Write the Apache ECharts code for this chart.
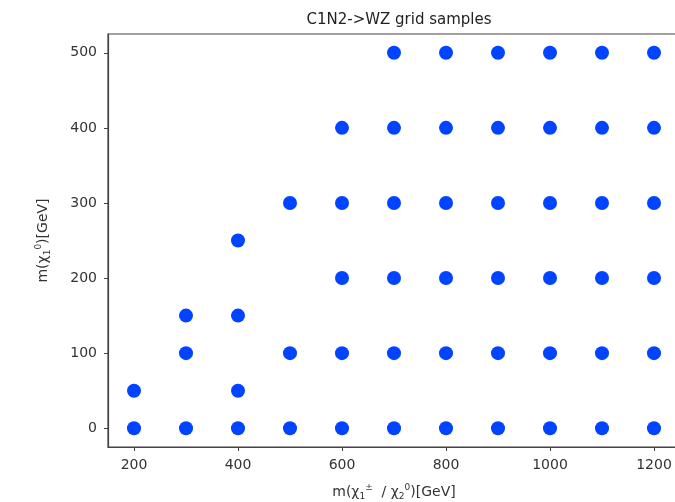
<!DOCTYPE html>
<html><head><meta charset="utf-8">
<script src="https://cdn.jsdelivr.net/npm/echarts@6/dist/echarts.min.js"></script>
<style>html,body{margin:0;padding:0;background:#fff}#c{width:675px;height:502px}</style>
</head><body><div id="c"></div>
<script>
// Grid sample points: chargino/neutralino2 mass (x) vs neutralino1 mass (y)
const xMasses = [200, 300, 400, 500, 600, 700, 800, 900, 1000, 1100, 1200];
const yByMass = {
  200: [0, 50],
  300: [0, 100, 150],
  400: [0, 50, 150, 250],
  500: [0, 100, 300],
  600: [0, 100, 200, 300, 400],
  700: [0, 100, 200, 300, 400, 500],
  800: [0, 100, 200, 300, 400, 500],
  900: [0, 100, 200, 300, 400, 500],
  1000: [0, 100, 200, 300, 400, 500],
  1100: [0, 100, 200, 300, 400, 500],
  1200: [0, 100, 200, 300, 400, 500]
};
const xTicks = [200, 400, 600, 800, 1000, 1200];
const yTicks = [0, 100, 200, 300, 400, 500];

const points = [];
xMasses.forEach(x => yByMass[x].forEach(y => points.push([x, y])));

const font = 'DejaVu Sans';
const chart = echarts.init(document.getElementById('c'));
const tickStyle = {show: true, inside: false, length: 4, lineStyle: {color: '#444', width: 1}};
const labelStyle = {color: '#333', fontFamily: font, fontSize: 14, formatter: v => String(v)};
const nameRich = {
  t: {fontFamily: font, fontSize: 14, color: '#333'},
  sub: {fontFamily: font, fontSize: 9, color: '#333', padding: [9, 0, 0, 0]},
  sup: {fontFamily: font, fontSize: 9, color: '#333', padding: [0, 0, 9, 0]}
};
chart.setOption({
  animation: false,
  title: {
    text: 'C1N2->WZ grid samples', left: 394, top: 8, textAlign: 'center',
    textStyle: {fontFamily: font, fontSize: 15, fontWeight: 'normal', color: '#222'}
  },
  grid: {left: 108, width: 572, top: 34, height: 413, containLabel: false,
         outerBoundsMode: 'none',
         show: true, borderColor: '#444', borderWidth: 1.2, backgroundColor: 'transparent'},
  xAxis: {
    type: 'value', min: 150, max: 1250,
    axisLine: {show: true, onZero: false, lineStyle: {color: '#444', width: 1.2}},
    splitLine: {show: false},
    axisTick: Object.assign({}, tickStyle, {customValues: xTicks}),
    axisLabel: Object.assign({}, labelStyle, {customValues: xTicks, margin: 11}),
    name: '{t|m(χ}{sub|1}{sup|±}{t|  / χ}{sub|2}{sup|0}{t|)[GeV]}',
    nameLocation: 'middle', nameGap: 36,
    nameTextStyle: {fontFamily: font, fontSize: 14, color: '#333', rich: nameRich}
  },
  yAxis: {
    type: 'value', min: -25, max: 525,
    axisLine: {show: true, onZero: false, lineStyle: {color: '#444', width: 1.2}},
    splitLine: {show: false},
    axisTick: Object.assign({}, tickStyle, {customValues: yTicks}),
    axisLabel: Object.assign({}, labelStyle, {customValues: yTicks, margin: 11}),
    name: '{t|m(χ}{sub|1}{sup|0}{t|)[GeV]}',
    nameLocation: 'middle', nameGap: 56,
    nameTextStyle: {fontFamily: font, fontSize: 14, color: '#333', rich: nameRich}
  },
  series: [{
    type: 'scatter', data: points, symbol: 'circle', symbolSize: 14,
    itemStyle: {color: '#0044ff', opacity: 1}
  }]
});
</script></body></html>
